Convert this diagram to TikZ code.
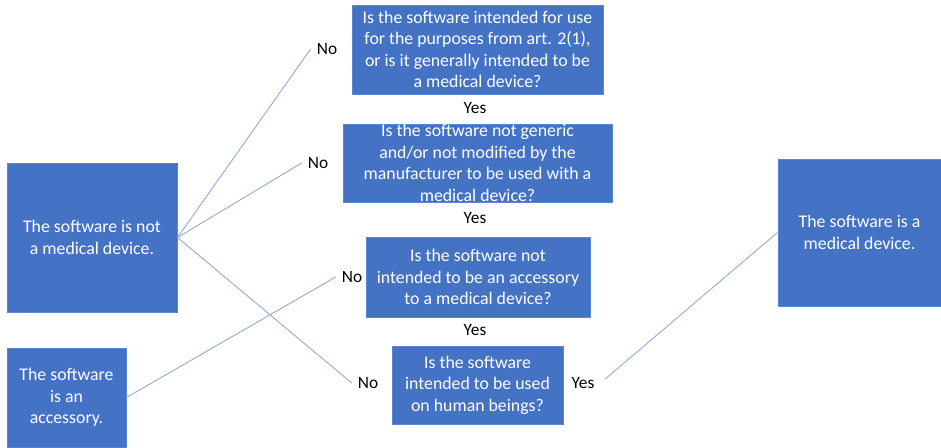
\documentclass[tikz,border=0pt]{standalone}
\usepackage{fontspec}
\setmainfont{Carlito}
\definecolor{boxblue}{HTML}{4472C4}
\definecolor{edgeblue}{HTML}{5B86D2}
\definecolor{lineblue}{HTML}{8FAADC}
\tikzset{every picture/.style = {x=1pt, y=-1pt}}
\tikzset{quest/.style = {fill=boxblue, draw=edgeblue, line width=1pt, text=white,
  align=center, inner sep=0, font=\fontsize{17.8}{21.5}\selectfont}}
\tikzset{ans/.style = {black, inner sep=6pt, font=\fontsize{17.3}{21.5}\selectfont}}
\tikzset{link/.style = {lineblue, line width=0.9pt}}

\begin{document}
\begin{tikzpicture}
  \useasboundingbox (0, 0) rectangle (941, 447);
  \node[quest, minimum width=251, minimum height=89] (q1) at (477.5, 49.5)
    {Is the software intended for use\\for the purposes from art. 2(1),\\or is it generally intended to be\\a medical device?};
  \node[quest, minimum width=269, minimum height=78] (q2) at (477.5, 163)
    {Is the software not generic\\and/or not modified by the\\manufacturer to be used with a\\medical device?};
  \node[quest, minimum width=224, minimum height=80] (q3) at (478, 277)
    {Is the software not\\intended to be an accessory\\to a medical device?};
  \node[quest, minimum width=171, minimum height=78] (q4) at (477.5, 385)
    {Is the software\\intended to be used\\on human beings?};
  \node[quest, minimum width=170, minimum height=149] (notmd) at (92, 237.5)
    {The software is not\\a medical device.};
  \node[quest, minimum width=119, minimum height=99] (acc) at (66.5, 397.5)
    {The software\\is an\\accessory.};
  \node[quest, minimum width=163, minimum height=147] (md) at (859.5, 232.5)
    {The software is a\\medical device.};
  % answers
  \node[ans] (yes1) at (475, 108) {Yes};
  \node[ans] (yes2) at (475, 218) {Yes};
  \node[ans] (yes3) at (475, 330) {Yes};
  \node[ans] (yes4) at (583, 383) {Yes};
  \node[ans] (no1) at (327, 49) {No};
  \node[ans] (no2) at (318, 163) {No};
  \node[ans] (no3) at (352, 277) {No};
  \node[ans] (no4) at (368, 383) {No};
  % connectors
  \draw[link] (notmd.east) -- (no1.west);
  \draw[link] (notmd.east) -- (no2.west);
  \draw[link] (notmd.east) -- (no4.west);
  \draw[link] (acc.east) -- (no3.west);
  \draw[link, shorten <=6] (yes4.east) -- (md.west);
\end{tikzpicture}
\end{document}
